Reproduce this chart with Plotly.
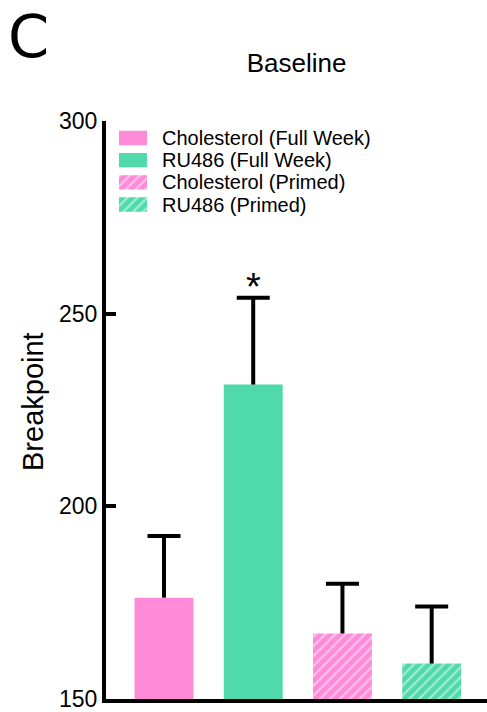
import plotly.graph_objects as go

# Data
groups = ["Cholesterol (Full Week)", "RU486 (Full Week)", "Cholesterol (Primed)", "RU486 (Primed)"]
means = [176.3, 231.6, 167.0, 159.2]
sems = [16.0, 22.5, 12.9, 14.8]
colors = ["#FF8AD8", "#50DAAB", "#FF8AD8", "#50DAAB"]
hatched = [False, False, True, True]
y_ticks = [150, 200, 250, 300]
positions = [0, 1, 2, 3]

W, H = 487, 712
ML, MR, MT, MB = 106, 0, 121, 13
PW = W - ML - MR
PH = H - MT - MB

def px_x(p):
    return (p - ML) / PW

def px_y(p):
    return (H - MB - p) / PH

def make_marker(c, h):
    marker = dict(color=c, line=dict(width=0))
    if h:
        marker["pattern"] = dict(shape="/", fgcolor="white", bgcolor=c, size=7, solidity=0.3, fillmode="overlay")
    return marker

fig = go.Figure()
cap = 0.185
for i, (g, m, s, c, h) in enumerate(zip(groups, means, sems, colors, hatched)):
    p = positions[i]
    fig.add_trace(go.Bar(x=[p], y=[m], name=g, width=0.66, marker=make_marker(c, h), showlegend=False))
    # upward-only error bar (no cap at the bar top)
    fig.add_trace(go.Scatter(
        x=[p, p, None, p - cap, p + cap], y=[m, m + s, None, m + s, m + s],
        mode="lines", line=dict(color="black", width=4), showlegend=False, hoverinfo="skip",
    ))
    # legend swatch on an overlay axis
    fig.add_trace(go.Bar(x=[1], y=[i], base=0, orientation="h", width=0.65, marker=make_marker(c, h),
                         xaxis="x2", yaxis="y2", showlegend=False, hoverinfo="skip"))
    fig.add_annotation(x=px_x(160), y=i, xref="paper", yref="y2", text=g, showarrow=False,
                       xanchor="left", yanchor="middle",
                       font=dict(size=20, color="black", family="Liberation Sans"))

fig.add_annotation(x=positions[1], y=means[1] + sems[1], text="*", showarrow=False,
                   yanchor="middle", yshift=11, font=dict(size=38, color="black", family="Liberation Sans"))

fig.add_annotation(x=px_x(6), y=px_y(0), xref="paper", yref="paper", text="C", showarrow=False,
                   xanchor="left", yanchor="top", font=dict(size=59, color="black", family="DejaVu Sans"))

fig.add_annotation(x=px_x(33), y=px_y(402), xref="paper", yref="paper", text="Breakpoint", showarrow=False,
                   textangle=-90, xanchor="center", yanchor="middle",
                   font=dict(size=29, color="black", family="Liberation Sans"))

fig.update_layout(
    width=W, height=H,
    margin=dict(l=ML, r=MR, t=MT, b=MB),
    paper_bgcolor="white", plot_bgcolor="white",
    barmode="overlay",
    showlegend=False,
    title=dict(text="Baseline", x=(ML + PW / 2) / W, xanchor="center", y=1 - 63 / H, yanchor="middle",
               font=dict(size=26, color="black", family="Liberation Sans")),
    font=dict(family="Liberation Sans", color="black"),
    xaxis=dict(range=[-0.65, 3.62], showticklabels=False, ticks="",
               showline=True, linecolor="black", linewidth=4, showgrid=False, zeroline=False,
               fixedrange=True),
    yaxis=dict(range=[150, 300], tickvals=y_ticks, ticks="inside", ticklen=10, tickwidth=4,
               tickcolor="black", showline=True, linecolor="black", linewidth=4,
               showgrid=False, zeroline=False, fixedrange=True, ticklabeloverflow="allow",
               tickfont=dict(size=23, color="black", family="Liberation Sans")),
    xaxis2=dict(domain=[px_x(119), px_x(147)], range=[0, 1], visible=False, anchor="y2", fixedrange=True),
    yaxis2=dict(domain=[px_y(215.6), px_y(126.9)], range=[3.5, -0.5], visible=False, anchor="x2", fixedrange=True),
)

fig.write_html("out.html")
